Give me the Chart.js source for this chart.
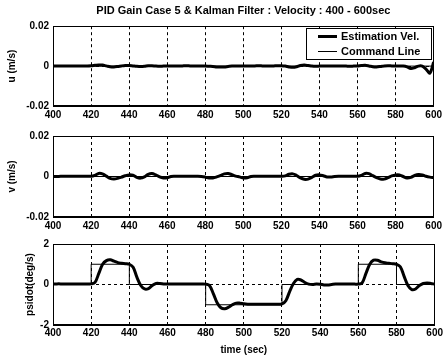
<!DOCTYPE html>
<html><head><meta charset="utf-8">
<script src="https://cdn.jsdelivr.net/npm/chart.js@4.4.1/dist/chart.umd.min.js"></script>
<style>
html,body{margin:0;padding:0;background:#fff;}
#wrap{position:relative;width:445px;height:360px;overflow:hidden;background:#fff;}
canvas{position:absolute;left:0;}
</style></head><body>
<div id="wrap">
<canvas id="c1" width="445" height="120" style="top:0px"></canvas>
<canvas id="c2" width="445" height="111" style="top:120px"></canvas>
<canvas id="c3" width="445" height="129" style="top:231px"></canvas>
</div>
<script>
// ---- data ----
const titleText = "PID Gain Case 5 & Kalman Filter : Velocity : 400 - 600sec";
const seriesLabels = ["Estimation Vel.", "Command Line"];
const timeSec = [400,402,404,406,408,410,412,414,416,418,420,422,424,426,428,430,432,434,436,438,440,442,444,446,448,450,452,454,456,458,460,462,464,466,468,470,472,474,476,478,480,482,484,486,488,490,492,494,496,498,500,502,504,506,508,510,512,514,516,518,520,522,524,526,528,530,532,534,536,538,540,542,544,546,548,550,552,554,556,558,560,562,564,566,568,570,572,574,576,578,580,582,584,586,588,590,592,594,596,598,600];
const uEst = [0,0,0,0,0,0,0,0.0001,0.0001,0.0001,0.0002,0.0004,0.0006,0.0005,0.0001,-0.0003,-0.0004,-0.0002,0.0001,0.0003,0.0003,0.0001,-0.0001,-0.0002,-0.0001,0.0002,0.0002,0,-0.0001,0,0.0001,0.0001,0,0,0.0001,0.0002,0.0001,0,0,0,0,-0.0001,-0.0002,-0.0004,-0.0005,-0.0004,-0.0002,0,0.0001,0.0001,0,0,0.0001,0.0001,0.0002,0.0001,0,0,0.0001,0.0002,0.0002,0,-0.0004,-0.0006,-0.0003,0.0003,0.0005,0.0003,0,-0.0001,0,0.0001,0.0001,0,0,0.0001,0.0001,0,-0.0001,0,0.0001,0.0003,0.0004,0.0001,-0.0003,-0.0004,-0.0002,0.0001,0.0002,0.0001,0,0.0001,0,-0.0004,-0.0012,-0.0008,0,0,-0.0015,-0.0035,0.002];
const vEst = [0,0,0.0001,0.0001,0.0001,0.0001,0.0001,0.0001,0.0001,0.0001,0.0001,0.0006,0.0015,0.0013,0.0002,-0.0009,-0.0012,-0.0009,-0.0003,0.0004,0.0008,0.0006,-0.0004,-0.0008,-0.0002,0.0011,0.0015,0.0008,-0.0002,-0.0007,-0.0006,0,0.0001,0.0001,0.0001,0.0001,0.0001,0.0001,0.0001,0,-0.0003,-0.0007,-0.0007,-0.0002,0.0005,0.0013,0.0015,0.0009,0.0002,-0.0002,-0.0007,-0.0006,0,0.0001,0.0001,0.0001,0.0001,0.0001,0.0001,0.0001,0.0001,0.0003,0.0011,0.0013,0.0005,-0.0007,-0.0014,-0.0013,-0.0004,0.0006,0.0008,0.0004,-0.0002,-0.0002,0,0.0001,0.0001,0.0001,0.0001,0.0001,0.0001,0.0006,0.0015,0.0014,0.0004,-0.0006,-0.0012,-0.0013,-0.0006,0.0003,0.0008,0.0008,0,-0.0007,-0.0004,0.0005,0.001,0.0008,0.0001,-0.0003,-0.0005];
const psidotEst = [0.02,0.03,0.03,0.02,0.02,0.02,0.03,0.03,0.03,0.03,0.03,0.1,0.55,1.0,1.18,1.22,1.15,1.08,1.05,1.03,1.0,0.85,0.35,-0.05,-0.22,-0.2,-0.05,0.05,0.05,0.03,0.02,0.02,0.03,0.03,0.03,0.03,0.03,0.03,0.03,0.03,0.02,-0.05,-0.45,-0.9,-1.15,-1.2,-1.12,-1.0,-0.92,-0.92,-0.95,-0.97,-0.98,-0.98,-0.98,-0.97,-0.97,-0.97,-0.97,-0.97,-0.96,-0.8,-0.35,0.05,0.25,0.22,0.1,0.02,0.0,0.02,0.01,-0.02,-0.02,0.0,0.02,0.02,0.02,0.02,0.02,0.02,0.02,0.08,0.55,1.0,1.2,1.2,1.12,1.07,1.05,1.03,1.0,0.88,0.4,-0.05,-0.25,-0.22,-0.05,0.05,0.07,0.05,0.02];
const cmdTime = [400,420,440,480,520,560,580,600];
const uCmd = [0,0,0,0,0,0,0,0];
const vCmd = [0,0,0,0,0,0,0,0];
const psidotCmd = [0,1,0,-1,0,1,0,0];
const xTicks = [400,420,440,460,480,500,520,540,560,580,600];
const uTicks = [-0.02,0,0.02];
const vTicks = [-0.02,0,0.02];
const psidotTicks = [-2,0,2];
const yLabels = ["u (m/s)","v (m/s)","psidot(deg/s)"];
const xLabel = "time (sec)";
// ---- end data ----

const FONT = "Arial, 'Liberation Sans', sans-serif";
const pts = (xs, ys) => xs.map((x, i) => ({x: x, y: ys[i]}));

const boxPlugin = {
  id: 'box',
  afterDatasetsDraw(chart) {
    const a = chart.chartArea, c = chart.ctx;
    c.save();
    c.strokeStyle = '#000'; c.lineWidth = 1; c.setLineDash([]);
    c.strokeRect(Math.round(a.left) + 0.5, Math.round(a.top) + 0.5,
                 Math.round(a.right - a.left) - 1, Math.round(a.bottom - a.top) - 1);
    c.restore();
  }
};
const legendPlugin = {
  id: 'legendBox',
  afterDraw(chart) {
    const a = chart.chartArea, c = chart.ctx, ds = chart.data.datasets;
    const w = 126, h = 32;
    const x = Math.round(a.right) - w - 2, y = Math.round(a.top) + 2;
    c.save();
    c.fillStyle = '#fff'; c.fillRect(x, y, w, h);
    c.strokeStyle = '#000'; c.lineWidth = 1; c.strokeRect(x + 0.5, y + 0.5, w - 1, h - 1);
    c.font = "bold 11px " + FONT; c.textBaseline = 'middle';
    ds.forEach((d, i) => {
      const ly = y + 8 + i * 15;
      c.beginPath(); c.lineWidth = d.borderWidth; c.strokeStyle = '#000';
      c.moveTo(x + 12, ly + 0.5); c.lineTo(x + 31, ly + 0.5); c.stroke();
      c.fillStyle = '#000'; c.fillText(d.label, x + 35, ly + 1);
    });
    c.restore();
  }
};

function makeChart(id, est, cmd, yTicks, yLabel, opts) {
  const yMin = yTicks[0], yMax = yTicks[yTicks.length - 1];
  return new Chart(document.getElementById(id), {
    type: 'line',
    data: {
      datasets: [
        {label: seriesLabels[0], data: pts(timeSec, est), borderColor: '#000', borderWidth: 3,
         pointRadius: 0, tension: 0.35, fill: false},
        {label: seriesLabels[1], data: pts(cmdTime, cmd), borderColor: '#000', borderWidth: 1,
         pointRadius: 0, stepped: true, fill: false}
      ]
    },
    options: {
      responsive: false, animation: false, devicePixelRatio: 1,
      layout: {padding: {top: opts.padTop, right: 8, left: 0, bottom: 0}},
      plugins: {
        legend: {display: false}, tooltip: {enabled: false},
        title: opts.title ? {display: true, text: titleText, color: '#000', fullSize: false,
          font: {family: FONT, size: 11, weight: 'bold'}, padding: {top: 4, bottom: 9}} : {display: false}
      },
      scales: {
        x: {
          type: 'linear', min: 400, max: 600,
          afterBuildTicks: s => { s.ticks = xTicks.map(v => ({value: v})); },
          afterFit: s => { s.height = opts.xHeight; },
          grid: {color: '#000', lineWidth: 1, drawTicks: false},
          border: {display: true, color: '#000', dash: [3, 3]},
          ticks: {color: '#000', padding: opts.xPad, maxRotation: 0, autoSkip: false,
                  font: {family: FONT, size: 10, weight: 'bold'}},
          title: opts.xTitle ? {display: true, text: xLabel, color: '#000',
                  font: {family: FONT, size: 10, weight: 'bold'}, padding: {top: 0, bottom: 4}} : {display: false}
        },
        y: {
          type: 'linear', min: yMin, max: yMax,
          afterBuildTicks: s => { s.ticks = yTicks.map(v => ({value: v})); },
          afterFit: s => { s.width = 53; },
          grid: {color: '#000', lineWidth: 1, drawTicks: false},
          border: {display: true, color: '#000', dash: [3, 3]},
          ticks: {color: '#000', padding: 4, font: {family: FONT, size: 10, weight: 'bold'},
                  callback: v => String(+Number(v).toFixed(4))},
          title: {display: true, text: yLabel, color: '#000',
                  font: {family: FONT, size: 10, weight: 'bold'}, padding: {top: opts.yTitlePad, bottom: 0}}
        }
      }
    },
    plugins: opts.legend ? [boxPlugin, legendPlugin] : [boxPlugin]
  });
}

makeChart('c1', uEst, uCmd, uTicks, yLabels[0], {padTop: 0, title: true, xHeight: 14, xPad: 3, xTitle: false, yTitlePad: 6, legend: true});
makeChart('c2', vEst, vCmd, vTicks, yLabels[1], {padTop: 16, title: false, xHeight: 14, xPad: 3, xTitle: false, yTitlePad: 6, legend: false});
makeChart('c3', psidotEst, psidotCmd, psidotTicks, yLabels[2], {padTop: 13, title: false, xHeight: 35, xPad: 2, xTitle: true, yTitlePad: 24, legend: false});
</script>
</body></html>
